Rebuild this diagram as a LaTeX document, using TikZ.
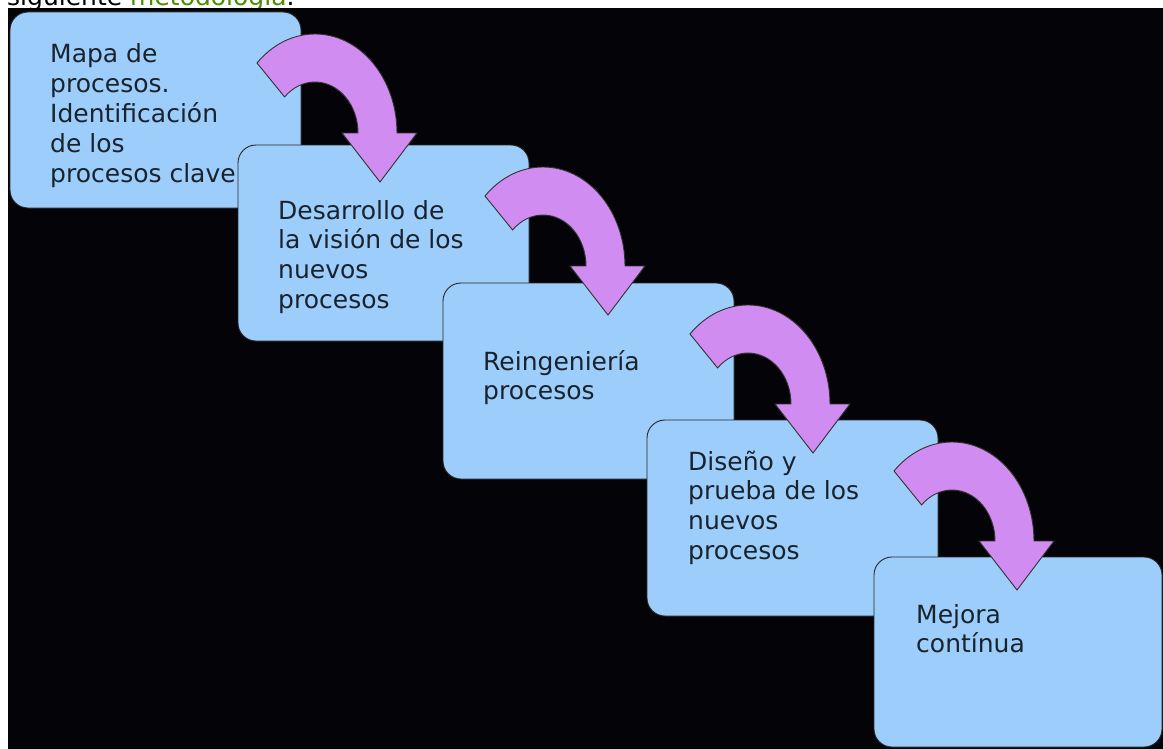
\documentclass[tikz,border=0pt]{standalone}
\usepackage{fontspec}
\setmainfont{DejaVu Sans}
\definecolor{boxblue}{RGB}{157,205,250}
\definecolor{arrowviolet}{RGB}{208,140,240}
\definecolor{txtdark}{RGB}{25,35,45}
\definecolor{linkgreen}{RGB}{75,140,0}
\definecolor{bgblack}{RGB}{4,4,8}
\newcommand\lbltab[1]{\begin{tabular}[t]{@{}l@{}}#1\end{tabular}}
\begin{document}
\begin{tikzpicture}[x=1bp,y=-1bp,
  box/.style={draw=black!85, line width=0.9bp, fill=boxblue, rounded corners=18bp,
    minimum width=291bp, minimum height=196bp, anchor=north west, inner sep=0pt, outer sep=0pt},
  lbl/.style={anchor=base west, inner sep=0pt, text=txtdark, font=\fontsize{25.1}{30.1}\selectfont},
  arrowshape/.style={draw=black!80, line width=0.9bp, fill=arrowviolet, line join=miter},
  bendarrow/.pic={
    \draw[arrowshape] (-58,-70)
      arc[start angle=135, end angle=0, x radius=82bp, y radius=99bp]
      -- (102,0) -- (65,49) -- (27,0) -- (43,0)
      arc[start angle=0, end angle=135, x radius=43bp, y radius=51bp]
      -- cycle;
  }]
\useasboundingbox (0,0) rectangle (1163,749);
\fill[white] (0,0) rectangle (1163,749);
\begin{scope}
  \clip (0,0) rectangle (1163,8);
  \node[anchor=base west, inner sep=0pt, font=\fontsize{25.1}{30.1}\selectfont] (head) at (7,6)
    {siguiente \textcolor{linkgreen}{metodología}.};
\end{scope}
\fill[bgblack] (8,8) rectangle (1163,749);

\node[box] (b1) at (10,12) {};
\node[lbl] (t1) at ([shift={(40,51)}]b1.north west)
  {\lbltab{Mapa de\\procesos.\\Identificación\\de los\\procesos clave}};
\node[box] (b2) at (238,145) {};
\node[lbl] (t2) at ([shift={(40,74)}]b2.north west)
  {\lbltab{Desarrollo de\\la visión de los\\nuevos\\procesos}};
\node[box] (b3) at (443,283) {};
\node[lbl] (t3) at ([shift={(40,87)}]b3.north west)
  {\lbltab{Reingeniería\\procesos}};
\node[box] (b4) at (647,420) {};
\node[lbl] (t4) at ([shift={(41,50)}]b4.north west)
  {\lbltab{Diseño y\\prueba de los\\nuevos\\procesos}};
\node[box, minimum width=288bp, minimum height=190bp] (b5) at (874,557) {};
\node[lbl] (t5) at ([shift={(42,66)}]b5.north west)
  {\lbltab{Mejora\\contínua}};

\pic (a1) at ([shift={(305,121)}]b1.north west) {bendarrow};
\pic (a2) at ([shift={(305,121)}]b2.north west) {bendarrow};
\pic (a3) at ([shift={(305,121)}]b3.north west) {bendarrow};
\pic (a4) at ([shift={(305,121)}]b4.north west) {bendarrow};
\end{tikzpicture}
\end{document}
